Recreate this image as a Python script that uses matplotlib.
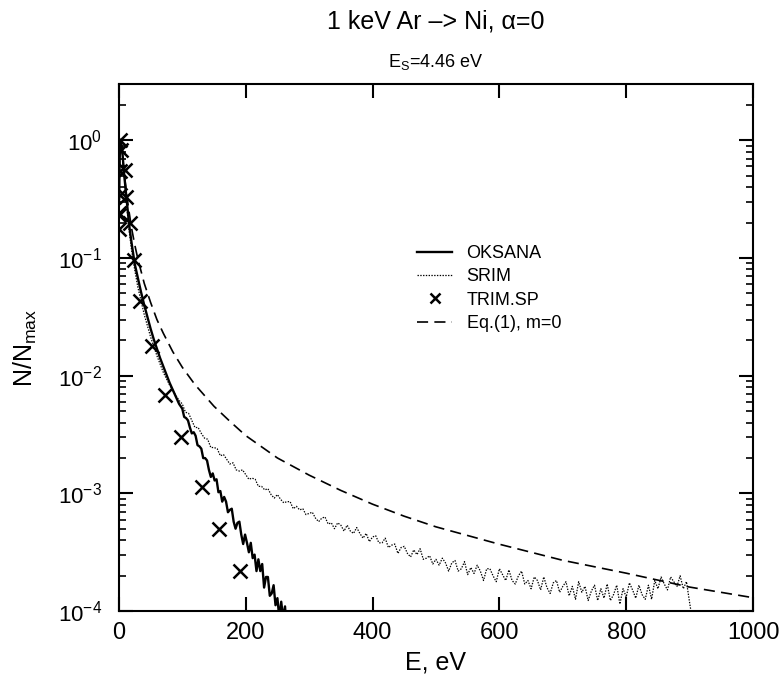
import numpy as np
import matplotlib
matplotlib.use("Agg")
from matplotlib import pyplot as plt
from matplotlib.legend_handler import HandlerLine2D
from matplotlib.ticker import LogLocator, MultipleLocator, NullFormatter

plt.rcParams['font.family'] = ['Liberation Sans', 'DejaVu Sans']
plt.rcParams['mathtext.fontset'] = 'custom'
plt.rcParams['mathtext.rm'] = 'Liberation Sans'
plt.rcParams['mathtext.it'] = 'Liberation Sans:italic'
plt.rcParams['lines.scale_dashes'] = False

# OKSANA (log10 N/Nmax)
oksana_e = [0.5, 1, 1.5, 2, 3, 4, 5, 6, 8, 10, 12, 15, 17, 20, 25, 30, 35, 40, 45, 50,
            55, 60, 65, 70, 75, 80, 85, 90, 95] + list(range(100, 266, 3))
oksana_log = [-0.5, -0.25, -0.1, -0.03, 0.0, -0.03, -0.08, -0.13, -0.27, -0.38, -0.49, -0.65, -0.75, -0.87, -1.05,
              -1.17, -1.29, -1.40, -1.50, -1.60, -1.69, -1.77, -1.85, -1.92, -1.99, -2.06, -2.12, -2.18, -2.24,
              -2.28, -2.35, -2.36, -2.38, -2.44, -2.49, -2.48, -2.51, -2.59, -2.60, -2.62,
              -2.70, -2.70, -2.72, -2.80, -2.86, -2.83, -2.89, -2.88, -2.99, -2.98, -3.07, -3.03, -3.07, -3.16, -3.14,
              -3.13, -3.24, -3.30, -3.25, -3.24, -3.35, -3.43, -3.35, -3.42, -3.50, -3.42, -3.55, -3.52, -3.66, -3.56,
              -3.66, -3.60, -3.80, -3.71, -3.71, -3.87, -3.85, -3.78, -3.95, -3.89, -4.06, -3.92, -4.06, -3.96, -4.20]

# SRIM (log10 N/Nmax)
srim_e = [0.5, 1, 2, 3, 4, 5, 6, 8, 10, 12, 15, 20, 25, 30, 40, 50, 60, 70, 80, 90] + list(range(95, 915, 5))
srim_log = [-0.45, -0.22, -0.03, 0.0, -0.03, -0.08, -0.14, -0.27, -0.40, -0.52, -0.72, -0.93, -1.10, -1.25, -1.48,
            -1.67, -1.83, -1.97, -2.08, -2.17,
            -2.21, -2.24, -2.31, -2.32, -2.38, -2.44, -2.44, -2.49, -2.53, -2.54, -2.61, -2.61, -2.62, -2.68,
            -2.67, -2.71, -2.75, -2.74, -2.80, -2.81, -2.80, -2.84, -2.88, -2.87, -2.88, -2.94, -2.94, -2.97,
            -2.96, -3.01, -3.04, -3.01, -3.05, -3.08, -3.07, -3.07, -3.13, -3.11, -3.14, -3.13, -3.18, -3.17,
            -3.16, -3.21, -3.24, -3.21, -3.20, -3.26, -3.25, -3.30, -3.25, -3.27, -3.32, -3.27, -3.32, -3.34,
            -3.29, -3.34, -3.38, -3.34, -3.41, -3.37, -3.36, -3.42, -3.42, -3.38, -3.46, -3.44, -3.43, -3.51,
            -3.46, -3.45, -3.51, -3.54, -3.48, -3.52, -3.47, -3.56, -3.55, -3.53, -3.60, -3.56,
            -3.61, -3.55, -3.59, -3.66, -3.59, -3.57, -3.66, -3.64, -3.58, -3.69, -3.63, -3.68, -3.61, -3.66,
            -3.74, -3.64, -3.64, -3.70, -3.75, -3.64, -3.69, -3.74, -3.65, -3.74, -3.77, -3.70, -3.66, -3.77,
            -3.74, -3.81, -3.71, -3.74, -3.82, -3.71, -3.80, -3.85, -3.76, -3.74, -3.84, -3.79,
            -3.75, -3.87, -3.79, -3.90, -3.75, -3.84, -3.79, -3.91, -3.83, -3.78, -3.91, -3.81, -3.89, -3.77,
            -3.91, -3.86, -3.78, -3.94, -3.81, -3.88, -3.76, -3.82, -3.89, -3.78, -3.86, -3.90, -3.78, -3.90,
            -3.74, -3.81, -3.71, -3.77, -3.82, -3.71, -3.75, -3.79, -3.70, -3.81, -3.75, -3.93, -4.10, -4.30]

# TRIM.SP
trim_e = [0.3, 0.5, 0.6, 1.2, 1.6, 2.5, 4, 9.4, 11, 17, 23.6, 33, 51.5, 73.5, 98.7, 131, 157.5, 190.5]
trim_n = [0.175, 0.23, 0.24, 0.34, 0.55, 1.0, 0.82, 0.56, 0.33, 0.2, 0.096, 0.043, 0.018, 0.0068, 0.0030,
          0.00113, 0.00050, 0.00022]

# Eq.(1), m=0
eq_e = [0.2, 0.5, 1, 1.5, 2.2, 3, 4, 5, 6, 8, 10, 12, 15, 20, 25, 30, 40, 50, 60, 70, 85, 100,
        120, 150, 175, 200, 250, 300, 350, 400, 450, 500, 600, 700, 800, 900, 1000]
eq_n = [0.27, 0.55, 0.82, 0.95, 1.0, 0.97, 0.89, 0.79, 0.70, 0.56, 0.44, 0.36, 0.27, 0.18, 0.13, 0.098,
        0.061, 0.042, 0.030, 0.023, 0.016, 0.0118, 0.0084, 0.0055, 0.0041, 0.0031, 0.0020, 0.00143,
        0.00106, 0.00081, 0.00064, 0.00052, 0.00037, 0.00027, 0.00021, 0.00016, 0.00013]


class MarkerRight(HandlerLine2D):
    # legend marker drawn at the right end of the handle
    def get_xdata(self, legend, xdescent, ydescent, width, height, fontsize):
        return [-xdescent, -xdescent + width], [-xdescent + width - 0.3 * fontsize]


fig = plt.figure(figsize=(7.82, 6.79), dpi=100)
ax = fig.add_axes([0.152, 0.1, 0.811, 0.776])

ax.plot(oksana_e, 10 ** np.array(oksana_log), color='black', lw=1.7, label='OKSANA')
ax.plot(srim_e, 10 ** np.array(srim_log), color='black', lw=0.9, ls=(0, (1, 1)), label='SRIM')
trim, = ax.plot(trim_e, trim_n, ls='none', marker='x', ms=10, mew=1.8, color='black', label='TRIM.SP')
ax.plot(eq_e, eq_n, color='black', lw=1.2, ls=(0, (8, 4.5)), label='Eq.(1), m=0')

ax.set_yscale('log')
ax.set_xlim(0, 1000)
ax.set_ylim(1e-4, 3)
ax.xaxis.set_major_locator(MultipleLocator(200))
ax.yaxis.set_major_locator(LogLocator(base=10, numticks=10))
ax.yaxis.set_minor_locator(LogLocator(base=10, subs=np.arange(2, 10), numticks=20))
ax.yaxis.set_minor_formatter(NullFormatter())

for s in ax.spines.values():
    s.set_linewidth(1.5)
ax.tick_params(axis='both', which='major', direction='in', length=10, width=1.5,
               top=True, right=True)
ax.tick_params(axis='y', which='minor', direction='in', length=5, width=1.2, right=True)
ax.tick_params(axis='x', which='minor', bottom=False, top=False)
ax.tick_params(axis='x', labelsize=17, pad=8)
ax.tick_params(axis='y', labelsize=16, pad=12)

ax.legend(loc='upper left', bbox_to_anchor=(0.47, 0.695), frameon=False, fontsize=13,
          borderpad=0, borderaxespad=0, handlelength=1.95, handletextpad=0.8,
          labelspacing=0.35, markerscale=0.7, handler_map={trim: MarkerRight()})

fig.text(0.557, 0.968, '1 keV Ar \u2013> Ni, \u03b1=0', ha='center', va='center', fontsize=18)
fig.text(0.557, 0.909, r'E$_\mathrm{S}$=4.46 eV', ha='center', va='center', fontsize=13)
fig.text(0.557, 0.025, 'E, eV', ha='center', va='center', fontsize=18)
fig.text(0.032, 0.488, r'N/N$_\mathrm{max}$', ha='center', va='center', rotation=90, fontsize=18)

fig.savefig('out.png', dpi=100)
